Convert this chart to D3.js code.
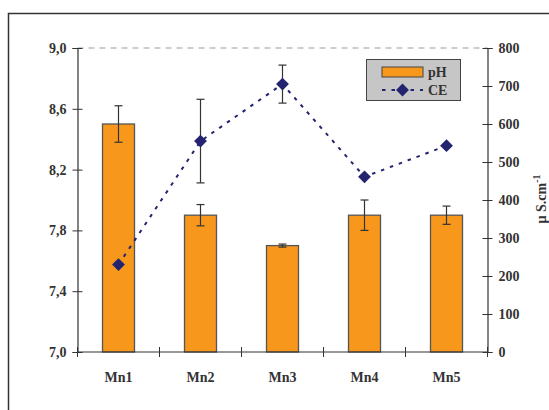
<!DOCTYPE html>
<html><head><meta charset="utf-8">
<script src="https://cdn.jsdelivr.net/npm/d3@7"></script>
<style>body{margin:0;background:#fff}svg{display:block}text{font-family:"Liberation Serif","Times New Roman",serif;font-weight:bold}</style>
</head><body>
<script>
const categories = ["Mn1","Mn2","Mn3","Mn4","Mn5"];
const phValues = [8.5, 7.9, 7.7, 7.9, 7.9];
const phErrors = [0.12, 0.07, 0.01, 0.1, 0.06];
const ceValues = [230, 555, 705, 461, 543];
const ceErrors = [0, 110, 50, 0, 0];
const phTicks = [7.0, 7.4, 7.8, 8.2, 8.6, 9.0];
const ceTicks = [0,100,200,300,400,500,600,700,800];

const W = 549, H = 410;
const svg = d3.select("body").append("svg").attr("width", W).attr("height", H);

// outer frame
svg.append("rect").attr("x", 8.5).attr("y", 13.5).attr("width", 600).attr("height", 450)
  .attr("fill", "none").attr("stroke", "#333").attr("stroke-width", 1.5);

const L = 77.5, R = 487.5, T = 48, B = 352;
const x = d3.scaleBand().domain(categories).range([L, R]);
const yL = d3.scaleLinear().domain([7, 9]).range([B, T]);
const yR = d3.scaleLinear().domain([0, 800]).range([B, T]);
const fmt = d => d.toFixed(1).replace(".", ",");

// dashed top gridline
svg.append("line").attr("x1", L).attr("x2", R).attr("y1", yL(9)).attr("y2", yL(9))
  .attr("stroke", "#bdbdbd").attr("stroke-width", 1.5).attr("stroke-dasharray", "6,5");

// bars
svg.selectAll("rect.bar").data(categories).enter().append("rect").attr("class","bar")
  .attr("x", d => x(d) + x.bandwidth()/2 - 16)
  .attr("width", 32)
  .attr("y", (d,i) => yL(phValues[i]))
  .attr("height", (d,i) => B - yL(phValues[i]))
  .attr("fill", "#F7981D").attr("stroke", "#555").attr("stroke-width", 1.3);

// pH error bars
const errG = svg.append("g").attr("stroke", "#333").attr("stroke-width", 1.2);
categories.forEach((c,i) => {
  const cx = x(c) + x.bandwidth()/2;
  const y1 = yL(phValues[i] + phErrors[i]), y2 = yL(phValues[i] - phErrors[i]);
  errG.append("line").attr("x1", cx).attr("x2", cx).attr("y1", y1).attr("y2", y2);
  errG.append("line").attr("x1", cx-4).attr("x2", cx+4).attr("y1", y1).attr("y2", y1);
  errG.append("line").attr("x1", cx-4).attr("x2", cx+4).attr("y1", y2).attr("y2", y2);
});

// CE error bars
categories.forEach((c,i) => {
  if (!ceErrors[i]) return;
  const cx = x(c) + x.bandwidth()/2;
  const y1 = yR(ceValues[i] + ceErrors[i]), y2 = yR(ceValues[i] - ceErrors[i]);
  errG.append("line").attr("x1", cx).attr("x2", cx).attr("y1", y1).attr("y2", y2);
  errG.append("line").attr("x1", cx-4).attr("x2", cx+4).attr("y1", y1).attr("y2", y1);
  errG.append("line").attr("x1", cx-4).attr("x2", cx+4).attr("y1", y2).attr("y2", y2);
});

// CE line
const line = d3.line().x((d,i) => x(categories[i]) + x.bandwidth()/2).y(d => yR(d));
svg.append("path").datum(ceValues).attr("d", line).attr("fill", "none")
  .attr("stroke", "#232370").attr("stroke-width", 2).attr("stroke-dasharray", "3.5,6");
const diamond = d3.symbol().type(d3.symbolDiamond2).size(105);
svg.selectAll("path.pt").data(ceValues).enter().append("path").attr("class","pt")
  .attr("d", diamond)
  .attr("transform", (d,i) => `translate(${x(categories[i]) + x.bandwidth()/2},${yR(d)})`)
  .attr("fill", "#232370");

// axes
const axL = svg.append("g").attr("transform", `translate(${L},0)`)
  .call(d3.axisLeft(yL).tickValues(phTicks).tickFormat(fmt).tickSize(5).tickPadding(6));
const axR = svg.append("g").attr("transform", `translate(${R},0)`)
  .call(d3.axisRight(yR).tickValues(ceTicks).tickSize(5).tickPadding(6));
const axB = svg.append("g").attr("transform", `translate(0,${B})`)
  .call(d3.axisBottom(x).tickSize(0).tickPadding(20));
[axL, axR, axB].forEach(g => {
  g.select(".domain").attr("stroke", "#333").attr("stroke-width", 1.2);
  g.selectAll("text").attr("fill", "#333").attr("font-size", 14)
    .style("font-family", '"Liberation Serif", serif').style("font-weight", "bold");
  g.selectAll(".tick line").attr("stroke", "#333");
});
axL.selectAll(".tick line").attr("x1", 5).attr("x2", -5);
axR.selectAll(".tick line").attr("x1", -5).attr("x2", 5);
axB.select(".domain").attr("d", `M${L},0H${R}`);
// category boundary ticks
const bounds = categories.map(c => x(c)).concat([R]);
axB.selectAll("line.bt").data(bounds).enter().append("line").attr("class","bt")
  .attr("x1", d => d).attr("x2", d => d).attr("y1", -5).attr("y2", 5)
  .attr("stroke", "#333");

// right axis title
svg.append("text").attr("transform", `translate(546,${199}) rotate(-90)`)
  .attr("text-anchor", "middle").attr("font-size", 14).attr("fill", "#333")
  .text("µ S.cm").append("tspan").attr("dy", -6).attr("font-size", 10).text("-1");

// legend
const lg = svg.append("g");
lg.append("rect").attr("x", 366.5).attr("y", 59.5).attr("width", 94).attr("height", 41)
  .attr("fill", "#c6c6c6").attr("stroke", "#444").attr("stroke-width", 1);
lg.append("rect").attr("x", 382).attr("y", 67).attr("width", 41).attr("height", 10)
  .attr("fill", "#F7981D").attr("stroke", "#444").attr("stroke-width", 1);
lg.append("line").attr("x1", 382).attr("x2", 423).attr("y1", 90).attr("y2", 90)
  .attr("stroke", "#232370").attr("stroke-width", 2).attr("stroke-dasharray", "3.5,6");
lg.append("path").attr("d", diamond).attr("transform", "translate(402.5,90)").attr("fill", "#232370");
lg.append("text").attr("x", 428).attr("y", 77).attr("font-size", 14).attr("fill", "#333").text("pH");
lg.append("text").attr("x", 428).attr("y", 95).attr("font-size", 14).attr("fill", "#333").text("CE");
</script>
</body></html>
